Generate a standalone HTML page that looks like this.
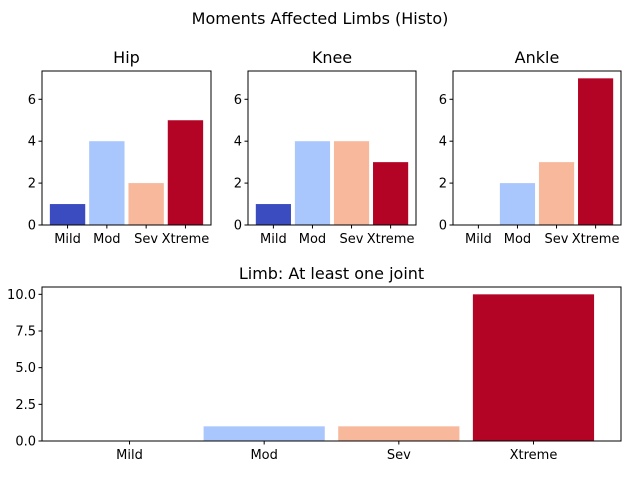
<!DOCTYPE html>
<html><head><meta charset="utf-8"><style>
body{margin:0;background:#fff;}
svg{display:block;font-family:"DejaVu Sans","Liberation Sans",sans-serif;}
</style></head><body>
<svg id="c" width="640" height="480">
<text x="320" y="24" font-size="16" text-anchor="middle">Moments Affected Limbs (Histo)</text>
</svg>
<script>
const categories=["Mild","Mod","Sev","Xtreme"];
const hipValues=[1,4,2,5];
const kneeValues=[1,4,4,3];
const ankleValues=[0,2,3,7];
const limbValues=[0,1,1,10];
const topTicks=[0,2,4,6];
const bottomTicks=[0,2.5,5.0,7.5,10.0];
const bottomTickLabels=["0.0","2.5","5.0","7.5","10.0"];
const colors=["#3b4cc0","#aac7fd","#f7b89c","#b40426"];
const NS="http://www.w3.org/2000/svg";
const svg=document.getElementById("c");
function mk(t,a,p){const e=document.createElementNS(NS,t);for(const k in a)e.setAttribute(k,a[k]);(p||svg).appendChild(e);return e;}
function panel(name,title,vals,x0,x1,y0,y1,ymax,ticks,tickLabels){
  const g=mk("g",{});
  
  
  const xs=v=>x0+(v+0.65)/4.3*(x1-x0);
  const ys=v=>y1-v/ymax*(y1-y0);
  vals.forEach((v,i)=>{
    const r=mk("rect",{x:xs(i-0.45),y:ys(v),width:xs(i+0.45)-xs(i-0.45),height:ys(0)-ys(v),fill:colors[i]},g);
    
    
  });
  mk("rect",{x:x0,y:y0,width:x1-x0,height:y1-y0,fill:"none",stroke:"#000","stroke-width":1},g);
  ticks.forEach((t,i)=>{
    const y=ys(t);
    mk("line",{x1:x0-3.5,x2:x0,y1:y,y2:y,stroke:"#000"},g);
    const tx=mk("text",{x:x0-6,y:y+4.5,"font-size":13,"text-anchor":"end"},g);
    tx.textContent=tickLabels?tickLabels[i]:String(t);
    
    
  });
  categories.forEach((c,i)=>{
    const x=xs(i);
    mk("line",{x1:x,x2:x,y1:y1,y2:y1+3.5,stroke:"#000"},g);
    const tx=mk("text",{x:x,y:y1+18,"font-size":13,"text-anchor":"middle"},g);
    tx.textContent=c;
    
    
  });
  const tt=mk("text",{x:(x0+x1)/2,y:y0-8,"font-size":16,"text-anchor":"middle"},g);
  tt.textContent=title;
  
  
}
panel("hip","Hip",hipValues,42,211,71,225,7.35,topTicks);
panel("knee","Knee",kneeValues,248,416,71,225,7.35,topTicks);
panel("ankle","Ankle",ankleValues,453,621,71,225,7.35,topTicks);
panel("limb","Limb: At least one joint",limbValues,42,621,287,441,10.5,bottomTicks,bottomTickLabels);
</script>
</body></html>
